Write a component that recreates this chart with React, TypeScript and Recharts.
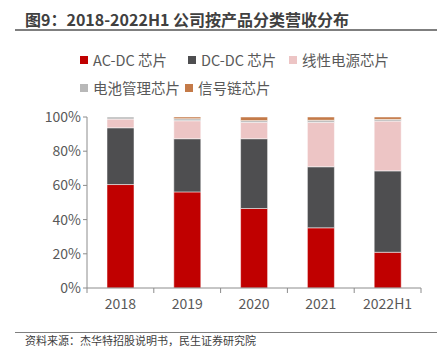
import { BarChart, Bar, XAxis, YAxis } from 'recharts';

const years = ['2018', '2019', '2020', '2021', '2022H1'];
const acdc = [60.5, 56.2, 46.5, 35.2, 20.9];
const dcdc = [33.2, 31.1, 40.8, 35.7, 47.6];
const linear = [5.1, 10.5, 9.6, 26.0, 29.1];
const battery = [1.2, 1.2, 1.0, 1.2, 1.0];
const signal = [0, 1.0, 2.1, 1.9, 1.4];
const yTicks = [0, 20, 40, 60, 80, 100];

const series = [
  { key: 'acdc', name: 'AC-DC 芯片', color: '#C00000' },
  { key: 'dcdc', name: 'DC-DC 芯片', color: '#4E4E50' },
  { key: 'linear', name: '线性电源芯片', color: '#EDC5C5' },
  { key: 'battery', name: '电池管理芯片', color: '#B8B8B8' },
  { key: 'signal', name: '信号链芯片', color: '#C47A48' },
];

const data = years.map((year, i) => ({
  year,
  acdc: acdc[i],
  dcdc: dcdc[i],
  linear: linear[i],
  battery: battery[i],
  signal: signal[i],
}));

const FONT = '"Noto Sans CJK SC", "Open Sans", sans-serif';
const TEXT = '#595959';
const AXIS = '#8C8C8C';

// category ticks sit between the bars, so draw them by hand
function XTick(props: any) {
  const { x, y, payload, index } = props;
  const half = 66.8 / 2;
  return (
    <g>
      <line x1={x - half} y1={y - 8} x2={x - half} y2={y - 3} stroke={AXIS} />
      {index === years.length - 1 && (
        <line x1={x + half} y1={y - 8} x2={x + half} y2={y - 3} stroke={AXIS} />
      )}
      <text x={x} y={y + 13} textAnchor="middle" fill={TEXT} fontSize={14} fontFamily={FONT}>
        {payload.value}
      </text>
    </g>
  );
}

function LegendItem({ name, color, width }: { name: string; color: string; width?: number }) {
  return (
    <div style={{ display: 'flex', alignItems: 'center', width }}>
      <span style={{ width: 8, height: 8, background: color, marginRight: 5 }} />
      <span>{name}</span>
    </div>
  );
}

export default function App() {
  return (
    <div style={{ position: 'absolute', left: 0, top: 0, width: 437, height: 348, background: '#fff', overflow: 'hidden', fontFamily: FONT }}>
      <div style={{ position: 'absolute', left: 25, top: 7, fontSize: 16, fontWeight: 700, color: '#404040', whiteSpace: 'nowrap' }}>
        图9：2018-2022H1 公司按产品分类营收分布
      </div>
      <div style={{ position: 'absolute', left: 15, top: 29, width: 422, height: 1.5, background: '#7F7F7F' }} />

      <div style={{ position: 'absolute', left: 80, top: 50, fontSize: 14.5, color: TEXT, lineHeight: '20px', whiteSpace: 'nowrap' }}>
        <div style={{ display: 'flex' }}>
          <LegendItem name={series[0].name} color={series[0].color} width={108} />
          <LegendItem name={series[1].name} color={series[1].color} width={101} />
          <LegendItem name={series[2].name} color={series[2].color} />
        </div>
        <div style={{ display: 'flex', marginTop: 8 }}>
          <LegendItem name={series[3].name} color={series[3].color} width={105} />
          <LegendItem name={series[4].name} color={series[4].color} />
        </div>
      </div>

      <div style={{ position: 'absolute', left: 0, top: 0 }}>
        <BarChart width={437} height={320} data={data} margin={{ top: 117, right: 16, left: 0, bottom: 2 }} barSize={27}>
          <YAxis
            width={87}
            domain={[0, 100]}
            ticks={yTicks}
            tickFormatter={(v) => v + '%'}
            axisLine={{ stroke: AXIS }}
            tickLine={{ stroke: AXIS }}
            tickSize={4}
            tick={{ fill: TEXT, fontSize: 14, fontFamily: FONT }}
          />
          <XAxis dataKey="year" height={30} axisLine={{ stroke: AXIS }} tickLine={false} tick={<XTick />} />
          {series.map((s) => (
            <Bar key={s.key} dataKey={s.key} name={s.name} stackId="a" fill={s.color} stroke="#ffffff" strokeWidth={0.5} isAnimationActive={false} />
          ))}
        </BarChart>
      </div>

      <div style={{ position: 'absolute', left: 15, top: 332, width: 422, height: 1, background: '#7F7F7F' }} />
      <div style={{ position: 'absolute', left: 25, top: 333, fontSize: 11, lineHeight: '14px', color: '#404040', whiteSpace: 'nowrap' }}>
        资料来源：杰华特招股说明书，民生证券研究院
      </div>
    </div>
  );
}
